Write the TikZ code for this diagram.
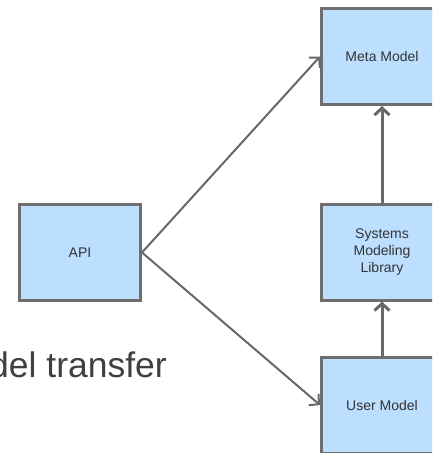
\documentclass[tikz,border=0pt]{standalone}
\usepackage{fontspec}
\setmainfont{Liberation Sans}
\usetikzlibrary{arrows.meta}
\definecolor{boxfill}{HTML}{BDDFFF}
\definecolor{boxline}{HTML}{6E6E6E}
\definecolor{linkline}{HTML}{686868}
\definecolor{labeltext}{HTML}{333333}
\definecolor{bigtext}{HTML}{404040}
\begin{document}
\begin{tikzpicture}[x=1pt,y=-1pt,
  block/.style={draw=boxline, fill=boxfill, line width=3pt,
    minimum width=121pt, minimum height=96pt, inner sep=0pt,
    align=center, font=\fontsize{14}{17}\selectfont, text=labeltext},
  link/.style={draw=linkline, line width=2pt,
    -{Straight Barb[length=7pt,width=15pt]}},
  uplink/.style={link, line width=3pt}]
\useasboundingbox (0,0) rectangle (432,453);
\clip (0,0) rectangle (432,453);
% model boxes
\node[block] (api)  at (80,252.5) {API};
\node[block] (meta) at (382,56.5) {Meta Model};
\node[block] (sml)  at (382,252)  {Systems\\Modeling\\Library};
\node[block] (user) at (382,405)  {User Model};
% connectors
\draw[link] (api.east) -- (meta.west);
\draw[link] (api.east) -- (user.west);
\draw[uplink] (sml.north) -- (meta.south);
\draw[uplink] (user.north) -- (sml.south);
% caption, running past the left edge
\node[anchor=base east, inner sep=0pt, font=\fontsize{35.5}{42}\selectfont,
  text=bigtext] (caption) at (167,377) {Model transfer};
\end{tikzpicture}
\end{document}
